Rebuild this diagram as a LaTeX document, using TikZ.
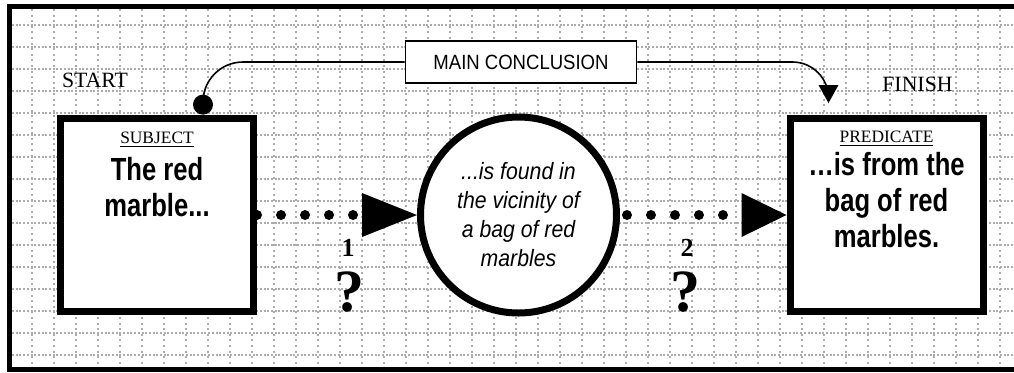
\documentclass[tikz,border=0pt]{standalone}
\usepackage{fontspec}
\setmainfont{Liberation Serif}
\newfontfamily\plainsans[FakeStretch=0.9]{Liberation Sans}
\newfontfamily\heavysans[FakeStretch=0.8]{Liberation Sans}
\usetikzlibrary{arrows.meta, positioning}

\begin{document}
\begin{tikzpicture}[x=0.5pt, y=-0.5pt,
      gridline/.style={gray!65, line width=0.9pt},
      termbox/.style={rectangle, draw, fill=white, line width=3.5pt,
                      minimum width=96.5pt, minimum height=96.5pt, inner sep=0pt},
      middle/.style={circle, draw, fill=white, line width=3.5pt,
                     minimum size=98pt, inner sep=0pt, align=center,
                     font=\plainsans\itshape\fontsize{11.8}{14.5}\selectfont},
      tag/.style={font=\fontsize{8.7}{10}\selectfont, inner sep=0pt, anchor=base},
      claim/.style={font=\heavysans\bfseries\fontsize{16}{18}\selectfont,
                    align=center, inner sep=0pt, anchor=north},
      endlabel/.style={font=\fontsize{10.9}{12}\selectfont, inner sep=0pt},
      stepnum/.style={font=\bfseries\fontsize{13}{14}\selectfont, inner sep=0pt},
      query/.style={font=\bfseries\fontsize{30}{30}\selectfont, inner sep=0pt},
      link/.style={line width=5pt, line cap=round, dash pattern=on 0pt off 12pt},
      thin/.style={line width=0.8pt}
    ]
    \useasboundingbox (0,0) rectangle (1014,372);

    % Graph paper
    \foreach \gx in {0,...,44} {
      \draw[gridline, dash pattern=on 1pt off 1.8pt] ({31.7+22*\gx},9) -- ({31.7+22*\gx},368);
    }
    \foreach \gy in {0,...,15} {
      \draw[gridline, dash pattern=on 1pt off 0.85pt] (12,{25+22*\gy}) -- (1014,{25+22*\gy});
    }

    % Frame (open on the right)
    \draw[line width=2.5pt] (1014,6.7) -- (9.5,6.7) -- (9.5,369.8) -- (1014,369.8);

    % Subject, middle term, predicate
    \node[termbox] (subj) at (157,215) {};
    \node[termbox] (pred) at (886.5,215) {};
    \node[middle] (mid) at (518.5,215)
          {...is found in\\the vicinity of\\a bag of red\\marbles};

    \node[tag] (subjtag) at (157,143) {\underline{SUBJECT}};
    \node[claim] (subjtext) at (157,156.7) {The red\\marble...};
    \node[tag] (predtag) at (886.5,142.7) {\underline{PREDICATE}};
    \node[claim] (predtext) at (886.5,151.7) {…is from the\\bag of red\\marbles.};

    \node[endlabel] (start) at (95,80) {START};
    \node[endlabel] (finish) at (917.5,84) {FINISH};

    % Main conclusion
    \node[rectangle, draw, fill=white, thin, minimum width=115.5pt, minimum height=21pt,
          font=\plainsans\fontsize{10.3}{12}\selectfont] (main) at (521,62) {MAIN CONCLUSION};
    \node[circle, fill, minimum size=10pt, inner sep=0pt, anchor=south]
          (subjdot) at ([xshift=23pt]subj.north) {};
    \coordinate (finishpt) at ([xshift=-29pt,yshift=6pt]pred.north);

    \draw[thin, rounded corners=20pt] (subjdot.center) |- (main.west);
    \draw[thin, rounded corners=18pt,
          -{Triangle[length=9pt, width=10pt, line width=0pt]}] (main.east) -| (finishpt);

    % Dotted steps
    \draw[link, -{Triangle[length=27.5pt, width=22pt, line width=0pt]}] (subj.east) -- (mid.west);
    \draw[link, -{Triangle[length=22.5pt, width=22pt, line width=0pt]}] ([xshift=3.5pt]mid.east) -- (pred.west);

    \node[stepnum] (num1) at (348,248) {1};
    \node[query] (ask1) at (349,292) {?};
    \node[stepnum] (num2) at (687,248) {2};
    \node[query] (ask2) at (685,292) {?};
  \end{tikzpicture}
\end{document}
